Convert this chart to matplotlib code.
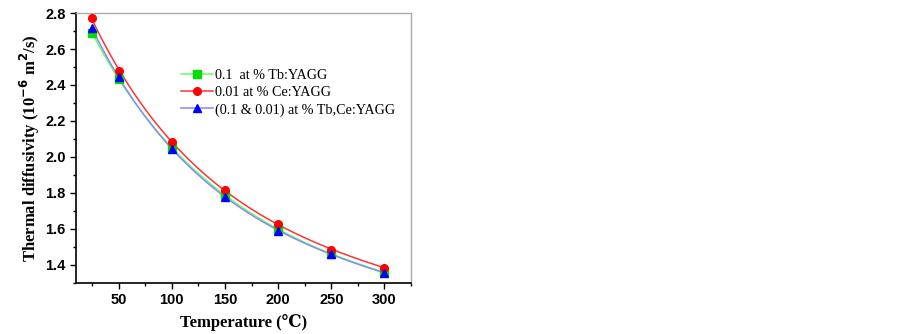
import matplotlib
matplotlib.use("Agg")
import matplotlib.pyplot as plt
import numpy as np
from matplotlib.ticker import MultipleLocator

# temperature (C) and thermal diffusivity (1e-6 m^2/s)
temps = [25, 50, 100, 150, 200, 250, 300]
tb_yagg = [2.69, 2.435, 2.05, 1.79, 1.60, 1.46, 1.36]
ce_yagg = [2.77, 2.48, 2.085, 1.815, 1.625, 1.485, 1.385]
tbce_yagg = [2.715, 2.445, 2.045, 1.78, 1.59, 1.46, 1.355]

labels = ["0.1  at % Tb:YAGG", "0.01 at % Ce:YAGG", "(0.1 & 0.01) at % Tb,Ce:YAGG"]
line_colors = ["#66ff66", "#ff3333", "#8888ff"]
marker_colors = ["#00dd00", "#ff0000", "#0000ff"]
markers = ["s", "o", "^"]

serif = ["Liberation Serif", "DejaVu Serif"]
sans = ["Liberation Sans", "DejaVu Sans"]

fig = plt.figure(figsize=(9.02, 3.34), dpi=100)
ax = fig.add_axes([0.0843, 0.153, 0.3714, 0.808])

x = np.array(temps, dtype=float)
xs = np.linspace(x.min(), x.max(), 300)
for ys, lab, lc, mc, mk in zip([tb_yagg, ce_yagg, tbce_yagg], labels, line_colors, marker_colors, markers):
    # smooth fit line through the points (fit in log space)
    coef = np.polyfit(x, np.log(ys), 3)
    ax.plot(xs, np.exp(np.polyval(coef, xs)), color=lc, lw=1.1, zorder=2)
    ax.plot(x, ys, ls="none", marker=mk, color=mc, ms=5.5, zorder=3)
    ax.plot([], [], color=lc, lw=1.1, marker=mk, mfc=mc, mec=mc, ms=5.5, label=lab)

ax.set_xlim(10, 325)
ax.set_ylim(1.3, 2.8)
ax.xaxis.set_minor_locator(MultipleLocator(25))
ax.yaxis.set_minor_locator(MultipleLocator(0.1))
ax.set_xticks([50, 100, 150, 200, 250, 300])
ax.set_yticks([1.4, 1.6, 1.8, 2.0, 2.2, 2.4, 2.6, 2.8])
ax.tick_params(which="major", direction="out", length=4, width=1, top=False, right=False)
ax.tick_params(which="minor", direction="out", length=2.5, width=1, top=False, right=False)
for lbl in ax.get_xticklabels() + ax.get_yticklabels():
    lbl.set_family(sans)
    lbl.set_fontweight("bold")
    lbl.set_fontsize(10.5)

for side in ["left", "bottom"]:
    ax.spines[side].set_linewidth(1.2)
for side in ["top", "right"]:
    ax.spines[side].set_color("#aaaaaa")
    ax.spines[side].set_linewidth(1)

ax.set_xlabel("Temperature (\u2103)", family=serif, fontweight="bold", fontsize=12, labelpad=5)
ax.set_ylabel("Thermal diffusivity (10$^{\\mathbf{-6}}$ m$^{\\mathbf{2}}$/s)", family=serif,
              fontweight="bold", fontsize=12, labelpad=2)

ax.legend(loc="upper left", bbox_to_anchor=(0.295, 0.815), frameon=False,
          prop={"family": serif, "size": 10.2}, handlelength=2.3, handletextpad=0.15,
          labelspacing=0.3, borderaxespad=0)

fig.savefig("out.png", dpi=100)
